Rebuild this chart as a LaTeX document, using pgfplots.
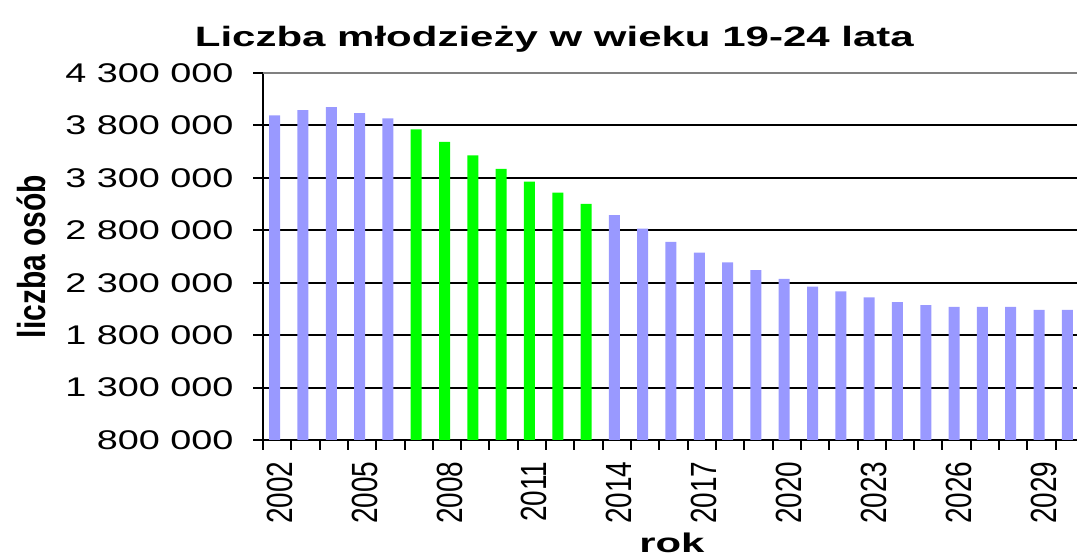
\documentclass[border=0pt]{standalone}
\usepackage{pgfplots}
\pgfplotsset{compat=1.18}
\usepackage{graphicx}
\usepackage{fontspec}
\setmainfont{Liberation Sans}
\newcommand{\sx}[1]{\scalebox{1.4}[1]{#1}}
\newcommand{\sy}[1]{\scalebox{1}[1.3]{#1}}
\definecolor{lav}{HTML}{9999FF}
\definecolor{grn}{HTML}{00FF00}
\begin{document}
\begin{tikzpicture}
\begin{axis}[
  at={(0pt,0pt)}, anchor=south west,
  scale only axis, width=821pt, height=367pt,
  xmin=2001.5, xmax=2030.5,
  ymin=800000, ymax=4300000,
  scaled y ticks=false,
  axis x line*=bottom, axis y line*=left,
  axis line style={line width=2.5pt, -},
  xtick={2001.5,2002.5,...,2030.5}, xticklabels={},
  major tick length=10pt,
  tick style={black, line width=2pt},
  tick align=outside,
  extra x ticks={2002,2005,2008,2011,2014,2017,2020,2023,2026,2029},
  extra x tick labels={\sy{2002},\sy{2005},\sy{2008},\sy{2011},\sy{2014},\sy{2017},\sy{2020},\sy{2023},\sy{2026},\sy{2029}},
  extra x tick style={major tick length=0pt, tick label style={rotate=90, anchor=east, yshift=-2.5pt, xshift=-18pt, font=\fontsize{28}{30}\selectfont}},
  ytick={800000,1300000,1800000,2300000,2800000,3300000,3800000},
  yticklabels={\sx{800 000},\sx{1 300 000},\sx{1 800 000},\sx{2 300 000},\sx{2 800 000},\sx{3 300 000},\sx{3 800 000}},
  extra y ticks={4300000},
  extra y tick labels={\sx{4 300 000}},
  extra y tick style={grid style={color=gray, line width=2.5pt}},
  ymajorgrids,
  grid style={black, line width=2pt},
  tick label style={font=\fontsize{27}{30}\selectfont},
  yticklabel style={xshift=-16pt},
  title={\scalebox{1.5}[1]{\textbf{Liczba młodzieży w wieku 19-24 lata}}},
  title style={at={(0.355,1.075)}, anchor=center, font=\fontsize{28}{32}\selectfont},
  ylabel={\sy{\textbf{liczba osób}}},
  ylabel style={at={(axis description cs:-0.282,0.5)}, anchor=center, rotate=0, font=\fontsize{30}{32}\selectfont},
  xlabel={\scalebox{1.55}[1]{\textbf{rok}}},
  xlabel style={at={(axis description cs:0.498,-0.281)}, anchor=center, font=\fontsize{27}{30}\selectfont},
  ybar, bar width=11pt, bar shift=-2.5pt,
]
\addplot[fill=lav, draw=none] coordinates {
(2002,3897000) (2003,3946000) (2004,3975000) (2005,3917000) (2006,3868000)
(2014,2945000) (2015,2816000) (2016,2689000) (2017,2587000) (2018,2494000)
(2019,2420000) (2020,2337000) (2021,2263000) (2022,2217000) (2023,2161000)
(2024,2115000) (2025,2087000) (2026,2069000) (2027,2069000) (2028,2069000)
(2029,2041000) (2030,2041000)
};
\addplot[fill=grn, draw=none] coordinates {
(2007,3763000) (2008,3644000) (2009,3515000) (2010,3386000) (2011,3264000)
(2012,3158000) (2013,3052000)
};
\end{axis}
\pgfresetboundingbox
\useasboundingbox (-263pt,-119pt) rectangle (814pt,440pt);
\end{tikzpicture}
\end{document}
